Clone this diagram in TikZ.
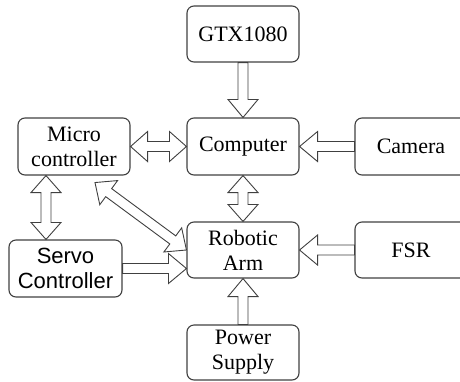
\documentclass[tikz,border=0pt]{standalone}
\usepackage{fontspec}
\setmainfont{Liberation Serif}
\newfontfamily\arialfont{Liberation Sans}
\usetikzlibrary{calc}
\definecolor{edge}{RGB}{64,64,64}
\tikzset{
  box/.style={draw=edge, line width=1.1pt, rounded corners=7pt,
    minimum width=112pt, minimum height=56pt, inner sep=0pt,
    align=center, font=\fontsize{22}{25}\selectfont},
  blk/.style={draw=edge, line width=0.9pt, fill=white, line join=miter},
}
% hollow block arrow from #1 to #2
\newcommand\oneway[2]{%
  \draw[blk] let \p1=($(#2)!18pt!(#1)$) in
    ($(#1)!5pt!90:(#2)$) -- ($(\p1)!5pt!-90:(#1)$) -- ($(\p1)!15pt!-90:(#1)$)
    -- (#2) -- ($(\p1)!15pt!90:(#1)$) -- ($(\p1)!5pt!90:(#1)$)
    -- ($(#1)!5pt!-90:(#2)$) -- cycle;}
% hollow block arrow with heads at both ends
\newcommand\twoway[2]{%
  \draw[blk] let \p1=($(#1)!17pt!(#2)$), \p2=($(#2)!17pt!(#1)$) in
    (#1) -- ($(\p1)!15pt!90:(#2)$) -- ($(\p1)!5pt!90:(#2)$)
    -- ($(\p2)!5pt!-90:(#1)$) -- ($(\p2)!15pt!-90:(#1)$) -- (#2)
    -- ($(\p2)!15pt!90:(#1)$) -- ($(\p2)!5pt!90:(#1)$)
    -- ($(\p1)!5pt!-90:(#2)$) -- ($(\p1)!15pt!-90:(#2)$) -- cycle;}
\begin{document}
\begin{tikzpicture}[x=1pt, y=-1pt]
\useasboundingbox (0,0) rectangle (460,381);
\clip (0,0) rectangle (460,381);

\node[box] (gtx) at (243,34) {GTX1080};
\node[box, minimum height=57pt] (comp) at (243,146.5) {Computer};
\node[box, minimum height=57pt] (micro) at (74,146.5) {Micro\\controller};
\node[box, minimum height=57pt] (camera) at (411,146.5) {Camera};
\node[box] (robot) at (243,250) {Robotic\\Arm};
\node[box] (fsr) at (411,250) {FSR};
\node[box, minimum width=113pt, minimum height=57pt, font=\arialfont\fontsize{22}{25}\selectfont] (servo) at (65.5,268.5) {Servo\\Controller};
\node[box, minimum height=55pt] (power) at (243,352.5) {Power\\Supply};

\coordinate (ms1) at ([xshift=-28pt]micro.south);
\coordinate (ms2) at (ms1 |- servo.north);
\coordinate (md) at ([shift={(21,7)}]micro.south);
\coordinate (sr) at (robot.west |- servo.east);

\oneway{gtx.south}{comp.north}
\oneway{camera.west}{comp.east}
\oneway{fsr.west}{robot.east}
\oneway{power.north}{robot.south}
\oneway{servo.east}{sr}
\twoway{micro.east}{comp.west}
\twoway{comp.south}{robot.north}
\twoway{ms1}{ms2}
\twoway{md}{robot.west}
\end{tikzpicture}
\end{document}
